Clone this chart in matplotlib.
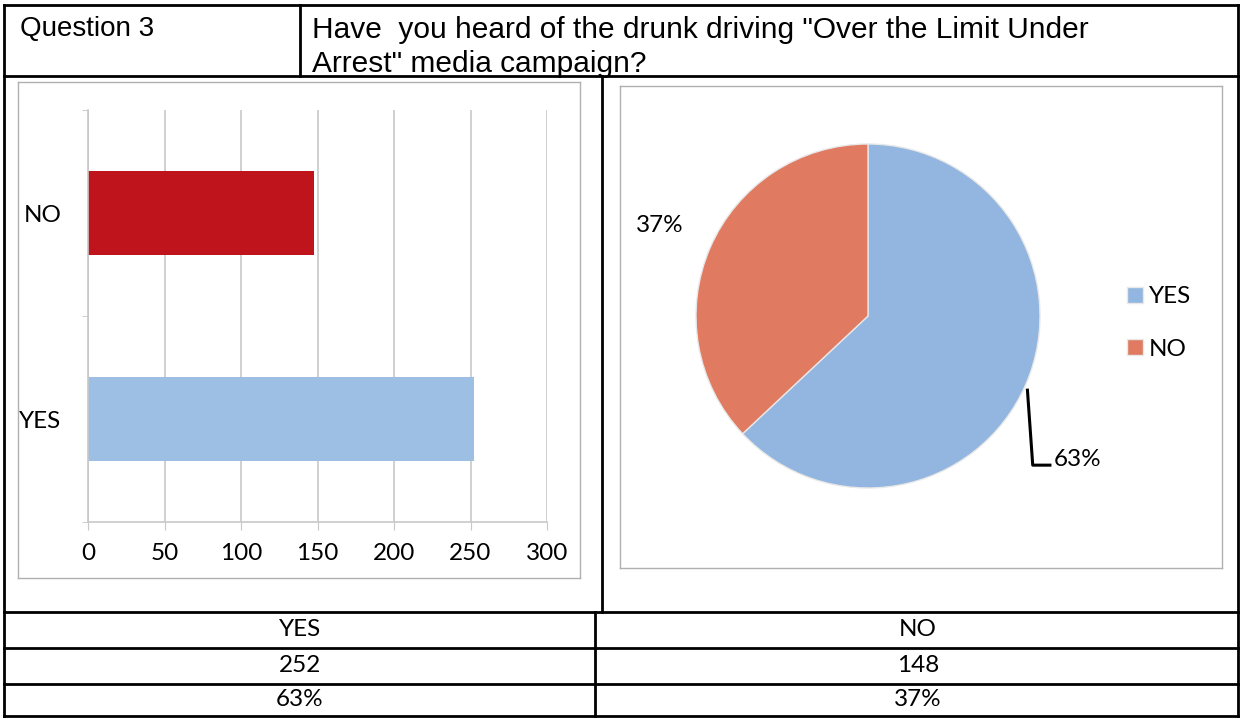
import numpy as np
import matplotlib
matplotlib.use("Agg")
import matplotlib.pyplot as plt
from matplotlib.lines import Line2D

# Data
question_id = "Question 3"
question_text = 'Have  you heard of the drunk driving "Over the Limit Under\nArrest" media campaign?'
categories = ["YES", "NO"]
counts = [252, 148]
percents = [63, 37]
x_ticks = [0, 50, 100, 150, 200, 250, 300]

BAR_COLORS = ["#9dbfe3", "#c0141c"]
PIE_COLORS = ["#92b6df", "#e07a60"]
GRID = "#c8c8c8"
W, H = 1241, 719

fig = plt.figure(figsize=(W / 100, H / 100), dpi=100)
fig.patch.set_facecolor("white")


def fx(px):
    return px / W


def fy(py):
    return 1 - py / H


def hline(y, x0, x1, lw=2.0, color="black"):
    fig.add_artist(Line2D([fx(x0), fx(x1)], [fy(y), fy(y)], lw=lw, color=color))


def vline(x, y0, y1, lw=2.0, color="black"):
    fig.add_artist(Line2D([fx(x), fx(x)], [fy(y0), fy(y1)], lw=lw, color=color))


# outer table
hline(5, 4, 1238)
hline(76, 4, 1238)
hline(612, 4, 1238)
hline(648, 4, 1238)
hline(684, 4, 1238)
hline(716, 4, 1238)
vline(4, 5, 716)
vline(1238, 5, 716)
vline(300, 5, 76)
vline(602, 76, 612)
vline(595, 612, 716)

# inner chart frames
for (x0, y0, x1, y1) in [(18, 82, 580, 578), (620, 86, 1222, 568)]:
    hline(y0, x0, x1, lw=1.0, color="#b0b0b0")
    hline(y1, x0, x1, lw=1.0, color="#b0b0b0")
    vline(x0, y0, y1, lw=1.0, color="#b0b0b0")
    vline(x1, y0, y1, lw=1.0, color="#b0b0b0")

# header texts
fig.text(fx(20), fy(29), question_id, fontsize=20, family="Liberation Sans", va="center")
fig.text(fx(312), fy(47), question_text, fontsize=21.5, family="Liberation Sans",
         va="center", linespacing=1.25)

FS = 17.5

# bar chart
ax = fig.add_axes([fx(88), fy(522), fx(547) - fx(88), fy(110) - fy(522)])
y = np.arange(len(categories))
ax.barh(y, counts, height=0.41, color=BAR_COLORS)
ax.set_xlim(0, 300)
ax.set_ylim(-0.5, 1.5)
ax.set_xticks(x_ticks)
ax.set_yticks(y)
ax.set_yticklabels(categories)
ax.set_yticks([-0.5, 0.5, 1.5], minor=True)
ax.xaxis.grid(True, color=GRID, lw=1.2)
ax.set_axisbelow(True)
for s in ["top", "right"]:
    ax.spines[s].set_visible(False)
for s in ["left", "bottom"]:
    ax.spines[s].set_color(GRID)
    ax.spines[s].set_linewidth(1.2)
ax.tick_params(axis="x", length=6, color=GRID, pad=9, labelsize=FS)
ax.tick_params(axis="y", which="major", length=0, pad=19, labelsize=FS)
ax.tick_params(axis="y", which="minor", length=4, color=GRID)
for lab in ax.get_xticklabels() + ax.get_yticklabels():
    lab.set_family("Lato")

# pie chart
R = 172
pax = fig.add_axes([fx(868 - R), fy(316 + R), fx(2 * R), fy(0) - fy(2 * R)])
wedges, _ = pax.pie(counts, colors=PIE_COLORS, startangle=90, counterclock=False,
                    radius=1.0, wedgeprops=dict(edgecolor="#e8e8e8", linewidth=1))
pax.set_xlim(-1, 1)
pax.set_ylim(-1, 1)
pax.set_aspect("equal")
pax.axis("off")

for w, p in zip(wedges, percents):
    mid = np.deg2rad((w.theta1 + w.theta2) / 2)
    cx, cy = np.cos(mid), np.sin(mid)
    if cx > 0:
        # leader line for right-side label
        corner_y = cy - 0.47
        pax.plot([cx * 1.01, cx + 0.04, cx + 0.14], [cy * 1.01 - 0.03, corner_y, corner_y],
                 color="black", lw=2.2, clip_on=False)
        pax.text(cx + 0.16, corner_y + 0.03, f"{p}%", fontsize=FS, family="Lato",
                 va="center", ha="left")
    else:
        pax.text(cx * 1.32, cy * 1.32, f"{p}%", fontsize=FS, family="Lato",
                 va="center", ha="center")

leg = fig.legend(wedges, categories, loc="center left",
                 bbox_to_anchor=(fx(1105), fy(323)), frameon=False,
                 handlelength=0.65, handleheight=0.65, handletextpad=0.25,
                 labelspacing=1.3, prop={"family": "Lato", "size": FS})

# bottom table
col_x = [300, 918]
rows = [(630, categories), (666, [str(c) for c in counts]), (700, [f"{p}%" for p in percents])]
for yy, vals in rows:
    for xx, v in zip(col_x, vals):
        fig.text(fx(xx), fy(yy), v, fontsize=FS, family="Lato", ha="center", va="center")

fig.savefig("out.png", dpi=100)
